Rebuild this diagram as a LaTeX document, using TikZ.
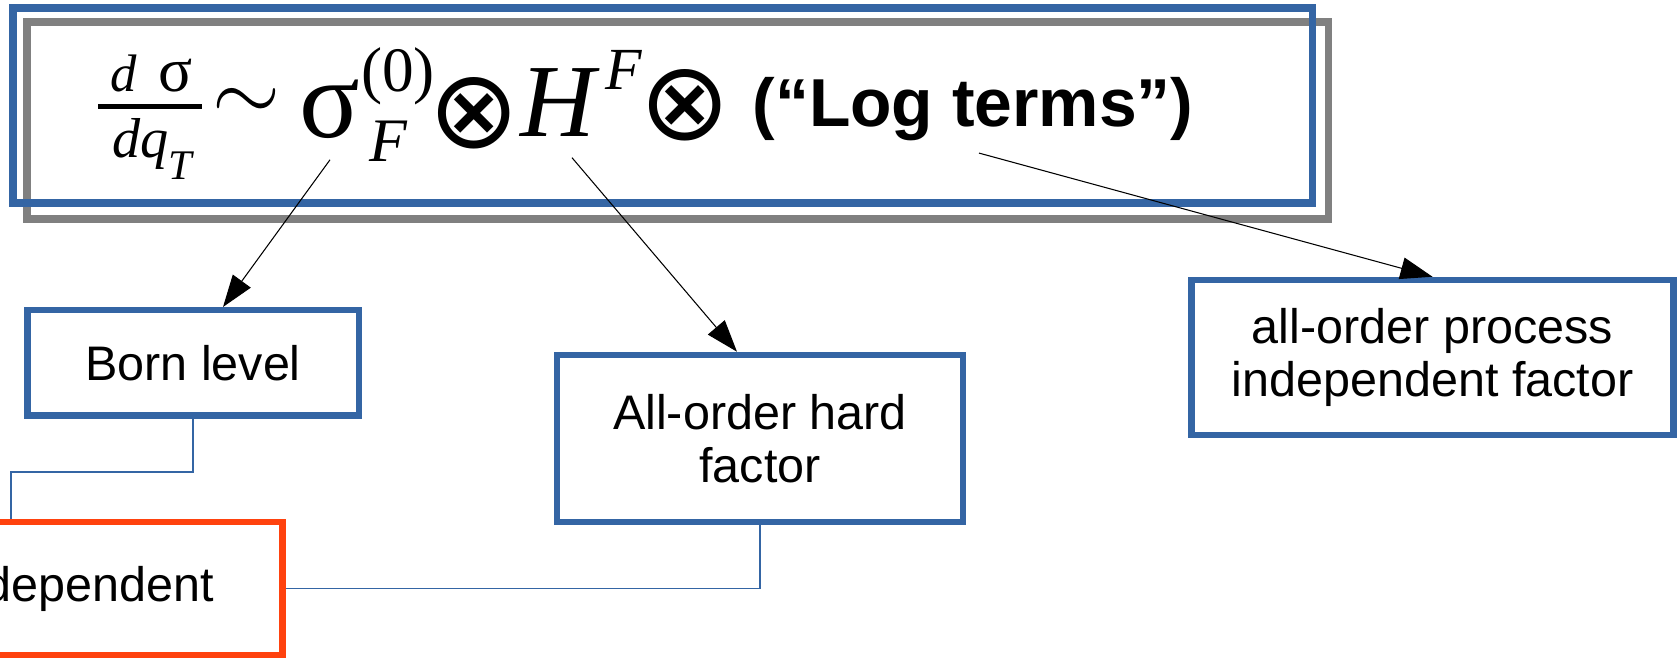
\documentclass[tikz,border=0pt]{standalone}
\usepackage{amsmath}
\usepackage{fontspec}
\setmainfont{Liberation Serif}
\setsansfont{Liberation Sans}
\newfontfamily\symbfont{DejaVu Sans}
\usetikzlibrary{arrows.meta, positioning, calc}

\definecolor{boxblue}{HTML}{3465A4}
\definecolor{boxred}{HTML}{FF420E}
\definecolor{framegray}{HTML}{808080}

\tikzstyle{factor} = [rectangle, draw=boxblue, line width=1.85pt, text centered, align=center, font=\sffamily\fontsize{13.8}{15.1}\selectfont]
\tikzstyle{depfactor} = [factor, draw=boxred]
\tikzstyle{sym} = [inner sep=0pt]
\tikzstyle{tens} = [sym, font=\symbfont\fontsize{31}{31}\selectfont]
\tikzstyle{arrow} = [line width=0.3pt, -{Triangle[length=0.32cm, width=0.22cm]}]
\tikzstyle{link} = [draw=boxblue, line width=0.35pt]

\begin{document}
\begin{tikzpicture}
      \useasboundingbox (0,0) rectangle (16.8,6.58);

      % frames round the formula
      \draw [framegray, line width=2pt] (0.27,4.39) rectangle (13.28,6.36);
      \draw [boxblue, line width=2pt]   (0.13,4.55) rectangle (13.12,6.50);

      % the formula, piece by piece
      \node (num)   [sym, anchor=base, font=\fontsize{15}{15}\selectfont] at (1.515,5.66)
            {\textit{d}\, {\fontsize{18}{18}\selectfont σ}};
      \node (den)   [sym, anchor=base, font=\fontsize{16}{16}\selectfont] at (1.52,5.00)
            {\textit{dq}\raisebox{-6pt}{\fontsize{12}{12}\selectfont\itshape T}};
      \draw [line width=1.4pt] (0.98,5.515) -- (2.02,5.515);
      \node (tilde) [sym, anchor=base, font=\fontsize{24}{24}\selectfont] at (2.47,5.37) {$\sim$};
      \node (sigma) [sym, inner ysep=0.2cm, anchor=base, font=\fontsize{32}{32}\selectfont] at (3.30,5.20) {σ};
      \node (order) [sym, anchor=base, font=\fontsize{18}{18}\selectfont] at (3.98,5.66) {(0)};
      \node (flav)  [sym, anchor=base, font=\itshape\fontsize{17.6}{18}\selectfont] at (3.88,4.96) {F};
      \node (tens1) [tens] at (4.74,5.445) {⊗};
      \node (hfac)  [sym, inner ysep=0.2cm, anchor=base, font=\itshape\fontsize{29.5}{30}\selectfont] at (5.58,5.21) {H};
      \node (hflav) [sym, anchor=base, font=\itshape\fontsize{17}{17}\selectfont] at (6.24,5.68) {F};
      \node (tens2) [tens] at (6.85,5.53) {⊗};
      \node (logs)  [sym, inner ysep=0.11cm, anchor=base, font=\sffamily\bfseries\fontsize{19.3}{19}\selectfont] at (9.73,5.31) {(“Log terms”)};

      % the factors
      \node (born)    [factor, minimum width=3.315cm, minimum height=1.055cm] at (1.93,2.95)   {Born level};
      \node (hard)    [factor, minimum width=4.06cm, minimum height=1.67cm]   at (7.60,2.195)  {All-order hard\\factor};
      \node (procind) [factor, minimum width=4.82cm, minimum height=1.55cm]   at (14.325,3.005) {all-order process\\independent factor};
      \node (procdep) [depfactor, minimum width=5.43cm, minimum height=1.33cm, text width=4.06cm, align=right, inner sep=0pt] at (0.11,0.695) {dependent};

      \draw [arrow] (sigma.south) -- ([xshift=0.3cm]born.north);
      \draw [arrow] ([xshift=0.14cm]hfac.south) -- ([xshift=-0.23cm]hard.north);
      \draw [arrow] ([xshift=0.06cm]logs.south) -- (procind.north);

      \draw [link] (born.south) -- ++(0,-0.53) -| (procdep.north);
      \draw [link] (procdep.east) -| (hard.south);
    \end{tikzpicture}
\end{document}
